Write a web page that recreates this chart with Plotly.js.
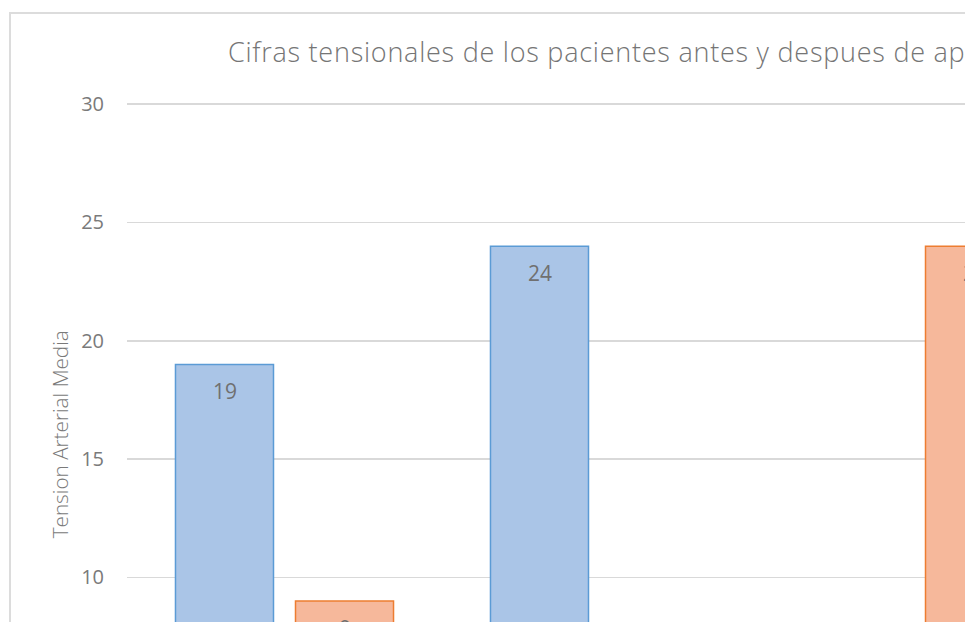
<!DOCTYPE html>
<html>
<head>
<meta charset="utf-8">
<script src="https://cdn.plot.ly/plotly-3.0.1.min.js"></script>
<style>
  html, body { margin: 0; padding: 0; width: 965px; height: 622px; overflow: hidden; background: #ffffff; }
  #frame { position: absolute; left: 9px; top: 12px; border: 2px solid #dcdcdc; background: #ffffff; }
  #chart { width: 1200px; height: 900px; }
  #chart text.gtitle { letter-spacing: 0.75px; }
</style>
</head>
<body>
<div id="frame"><div id="chart"></div></div>
<script>
// ---- data ----
const categories = ["Hipertensión", "Prehipertensión", "Normal"];
const seriesNames = ["Antes", "Despues"];
const antes   = [19, 24, 3];
const despues = [9, 5, 24];
const chartTitle = "Cifras tensionales de los pacientes antes y despues de aplicar";
const yTitle = "Tension Arterial Media";
const yTickVals = [0, 5, 10, 15, 20, 25, 30];

// ---- styling ----
const FONT = "'Open Sans', Lato, sans-serif";
const blueFill = "#aac5e7", blueLine = "#5b9bd5";
const orangeFill = "#f6b89b", orangeLine = "#ed7d31";

const traces = [
  { type: "bar", name: seriesNames[0], x: categories, y: antes,
    marker: { color: blueFill, line: { color: blueLine, width: 1.5 } }, hoverinfo: "x+y+name" },
  { type: "bar", name: seriesNames[1], x: categories, y: despues,
    marker: { color: orangeFill, line: { color: orangeLine, width: 1.5 } }, hoverinfo: "x+y+name" }
];

// data labels placed through the axis scales (inside end of each bar)
const labelAnnotations = [];
[antes, despues].forEach((vals, s) => {
  vals.forEach((v, i) => {
    labelAnnotations.push({
      x: categories[i], y: v, xref: "x", yref: "y",
      text: String(v), showarrow: false,
      xshift: s === 0 ? -60 : 60, yshift: -27, yanchor: "middle",
      font: { family: FONT, size: 21, color: "#707070" }
    });
  });
});

const layout = {
  width: 1200, height: 900,
  margin: { l: 116, r: 139, t: 89, b: 100 },
  paper_bgcolor: "#ffffff", plot_bgcolor: "#ffffff",
  font: { family: FONT, color: "#7a7a7a" },
  title: { text: chartTitle, xref: "container", x: 0.1808, xanchor: "left",
           yref: "container", y: 0.957, yanchor: "middle",
           font: { family: FONT, size: 27, color: "#757575", weight: 300 } },
  barmode: "group", bargap: 0.238, bargroupgap: 0.1833,
  xaxis: { type: "category", showgrid: false, zeroline: false, showline: true,
           linecolor: "#d9d9d9", linewidth: 1.5, ticks: "", showticklabels: false },
  yaxis: { range: [0, 30.05], tickvals: yTickVals, showgrid: true, gridcolor: "#d9d9d9",
           gridwidth: 1.5, zeroline: false, showline: false, ticks: "",
           ticklabelstandoff: 22,
           tickfont: { family: FONT, size: 20, color: "#7a7a7a" } },
  showlegend: false,
  annotations: labelAnnotations.concat([{
    text: yTitle, xref: "paper", yref: "paper", x: -0.0709, y: 0.534,
    xanchor: "center", yanchor: "middle", textangle: -90, showarrow: false,
    font: { family: FONT, size: 20.7, color: "#7a7a7a", weight: 300 }
  }])
};

Plotly.newPlot("chart", traces, layout, { displayModeBar: false, staticPlot: true });
</script>
</body>
</html>
